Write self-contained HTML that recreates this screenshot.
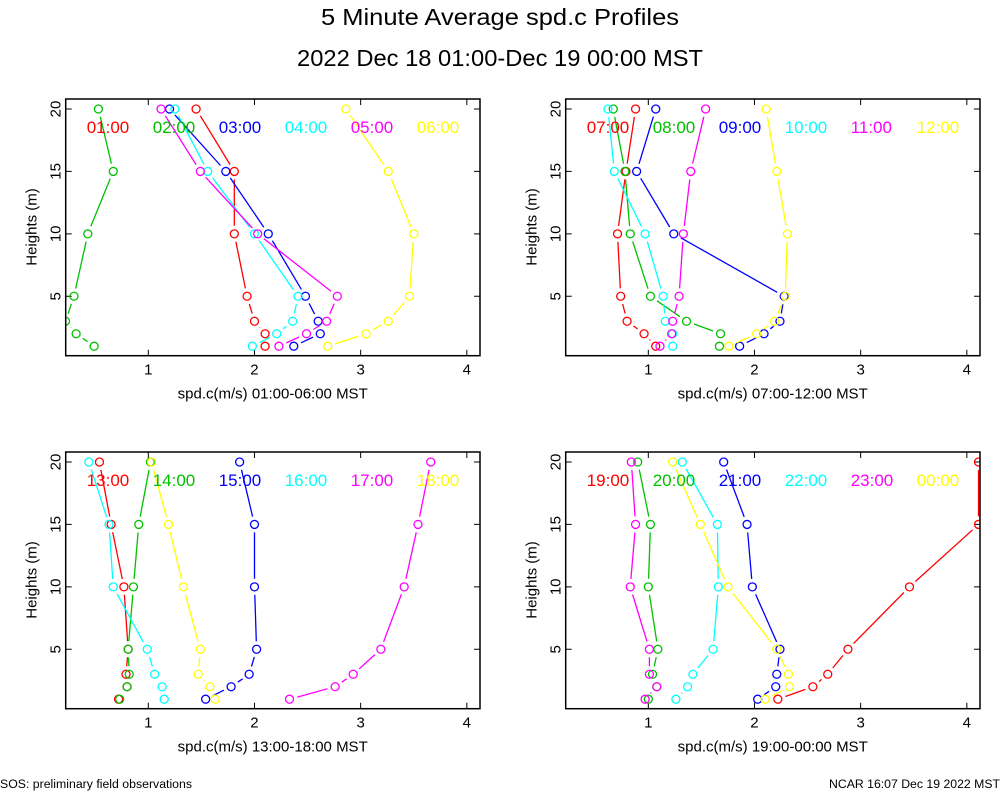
<!DOCTYPE html>
<html><head><meta charset="utf-8"><title>5 Minute Average spd.c Profiles</title>
<style>html,body{margin:0;padding:0;background:#fff}svg{display:block}text{font-family:"Liberation Sans",sans-serif}</style>
</head><body>
<svg id="chart" width="1000" height="800" viewBox="0 0 1000 800" xmlns="http://www.w3.org/2000/svg">
<rect width="1000" height="800" fill="#fff"/>
<text x="500" y="25" font-size="23" text-anchor="middle" textLength="358" lengthAdjust="spacingAndGlyphs">5 Minute Average spd.c Profiles</text>
<text x="500" y="66" font-size="23" text-anchor="middle" textLength="406" lengthAdjust="spacingAndGlyphs">2022 Dec 18 01:00-Dec 19 00:00 MST</text>
<text x="0" y="788" font-size="11.5" textLength="192" lengthAdjust="spacingAndGlyphs">SOS: preliminary field observations</text>
<text x="1000" y="788" font-size="11.5" text-anchor="end" textLength="171" lengthAdjust="spacingAndGlyphs">NCAR 16:07 Dec 19 2022 MST</text>
</svg>
<script>
const heights = [20, 15, 10, 5, 3, 2, 1];
const xTicks = [1, 2, 3, 4];
const yTicks = [5, 10, 15, 20];
const colors = ['#ff0000', '#00c000', '#0000ff', '#00ffff', '#ff00ff', '#ffff00'];
const panelLabels = ['01:00-06:00', '07:00-12:00', '13:00-18:00', '19:00-00:00'];
const seriesNames = [
  ['01:00', '02:00', '03:00', '04:00', '05:00', '06:00'],
  ['07:00', '08:00', '09:00', '10:00', '11:00', '12:00'],
  ['13:00', '14:00', '15:00', '16:00', '17:00', '18:00'],
  ['19:00', '20:00', '21:00', '22:00', '23:00', '00:00']
];
const p1 = [
  [1.45, 1.81, 1.81, 1.93, 2.00, 2.10, 2.10],
  [0.53, 0.67, 0.43, 0.30, 0.22, 0.32, 0.49],
  [1.20, 1.73, 2.13, 2.48, 2.60, 2.62, 2.37],
  [1.25, 1.56, 2.00, 2.41, 2.36, 2.21, 1.98],
  [1.12, 1.49, 2.03, 2.78, 2.68, 2.49, 2.23],
  [2.86, 3.26, 3.50, 3.46, 3.26, 3.05, 2.69]
];
const p2 = [
  [0.88, 0.79, 0.71, 0.74, 0.80, 0.96, 1.07],
  [0.67, 0.78, 0.83, 1.02, 1.36, 1.68, 1.67],
  [1.07, 0.89, 1.24, 2.28, 2.24, 2.09, 1.86],
  [0.62, 0.68, 0.97, 1.14, 1.16, 1.23, 1.23],
  [1.54, 1.40, 1.33, 1.29, 1.23, 1.22, 1.11],
  [2.11, 2.21, 2.31, 2.29, 2.19, 2.02, 1.76]
];
const p3 = [
  [0.54, 0.65, 0.77, 0.81, 0.79, 0.80, 0.72],
  [1.02, 0.91, 0.86, 0.81, 0.82, 0.80, 0.73],
  [1.86, 2.00, 2.00, 2.02, 1.95, 1.78, 1.54],
  [0.44, 0.63, 0.67, 0.99, 1.06, 1.13, 1.15],
  [3.66, 3.54, 3.41, 3.19, 2.93, 2.76, 2.33],
  [1.03, 1.19, 1.33, 1.49, 1.47, 1.58, 1.63]
];
const p4 = [
  [4.11, 4.11, 3.46, 2.88, 2.69, 2.55, 2.22],
  [0.90, 1.02, 1.00, 1.09, 1.04, 1.08, 1.00],
  [1.71, 1.93, 1.98, 2.24, 2.21, 2.20, 2.03],
  [1.32, 1.65, 1.66, 1.61, 1.42, 1.37, 1.26],
  [0.84, 0.88, 0.83, 1.01, 1.01, 1.08, 0.97],
  [1.23, 1.49, 1.75, 2.21, 2.32, 2.33, 2.10]
];
const panelsData = [p1, p2, p3, p4];

const NS = 'http://www.w3.org/2000/svg';
const svg = document.getElementById('chart');
const XMIN = 0.222, XMAX = 4.124, YMIN = 0.24, YMAX = 20.8;
function mk(tag, attrs, parent) {
  const e = document.createElementNS(NS, tag);
  for (const k in attrs) e.setAttribute(k, attrs[k]);
  parent.appendChild(e);
  return e;
}
const defs = mk('defs', {}, svg);
const origins = [[65.7, 99], [565.7, 99], [65.7, 452], [565.7, 452]];
const W = 414.3, H = 256.7;

panelsData.forEach((series, pi) => {
  const [L, T] = origins[pi];
  const xs = v => L + (v - XMIN) / (XMAX - XMIN) * W;
  const ys = v => T + H - (v - YMIN) / (YMAX - YMIN) * H;
  const g = mk('g', {}, svg);
  
  
  const cp = mk('clipPath', { id: 'clip' + pi }, defs);
  mk('rect', { x: L, y: T, width: W, height: H }, cp);
  // ticks
  xTicks.forEach(t => {
    const x = xs(t);
    const tk = mk('path', { d: `M${x},${T + H}v-6M${x},${T}v6`, stroke: '#000', 'stroke-width': 1 }, g);
    
    
    const lb = mk('text', { x: x, y: T + H + 19, 'font-size': 15, 'text-anchor': 'middle' }, g);
    
    
    lb.textContent = t;
  });
  yTicks.forEach(t => {
    const y = ys(t);
    const tk = mk('path', { d: `M${L},${y}h6M${L + W},${y}h-6`, stroke: '#000', 'stroke-width': 1 }, g);
    
    
    const lb = mk('text', { x: 0, y: 0, 'font-size': 15, 'text-anchor': 'middle', transform: `translate(${L - 5},${y}) rotate(-90)` }, g);
    
    
    lb.textContent = t;
  });
  const yl = mk('text', { x: 0, y: 0, 'font-size': 15, 'text-anchor': 'middle', transform: `translate(${L - 29},${T + 128}) rotate(-90)` }, g);
  
  
  yl.textContent = 'Heights (m)';
  const xl = mk('text', { x: L + 207, y: T + H + 43, 'font-size': 15, 'text-anchor': 'middle' }, g);
  
  
  xl.textContent = 'spd.c(m/s) ' + panelLabels[pi] + ' MST';
  // series
  const sg = mk('g', { 'clip-path': `url(#clip${pi})` }, g);
  series.forEach((vals, si) => {
    const col = colors[si];
    const s = mk('g', {}, sg);
    
    
    let d = '';
    const gap = 8;
    for (let i = 0; i < vals.length - 1; i++) {
      const x1 = xs(vals[i]), y1 = ys(heights[i]), x2 = xs(vals[i + 1]), y2 = ys(heights[i + 1]);
      const dx = x2 - x1, dy = y2 - y1, len = Math.hypot(dx, dy);
      if (len <= 2 * gap) continue;
      const ux = dx / len, uy = dy / len;
      d += `M${(x1 + ux * gap).toFixed(1)},${(y1 + uy * gap).toFixed(1)}L${(x2 - ux * gap).toFixed(1)},${(y2 - uy * gap).toFixed(1)}`;
    }
    const ln = mk('path', { d: d, stroke: col, 'stroke-width': 1.3, fill: 'none' }, s);
    
    
    vals.forEach((v, i) => {
      const c = mk('circle', { cx: xs(v), cy: ys(heights[i]), r: 4, fill: 'none', stroke: col, 'stroke-width': 1.3 }, s);
      
      
    });
    const lg = mk('text', { x: L + 21 + si * 66, y: T + 34, 'font-size': 17, fill: col }, g);
    
    
    lg.textContent = seriesNames[pi][si];
  });
  const fr = mk('rect', { x: L, y: T, width: W, height: H, fill: 'none', stroke: '#000', 'stroke-width': 1.5 }, g);
  
  
});
</script>
</body></html>
